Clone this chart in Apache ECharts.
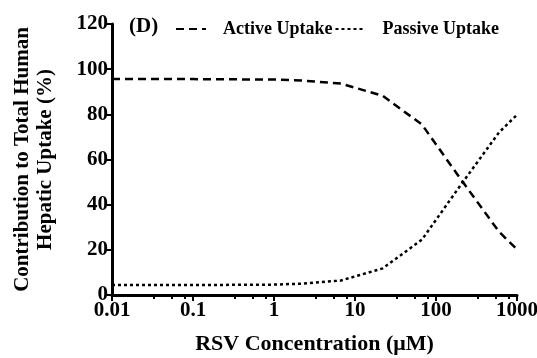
<!DOCTYPE html>
<html>
<head>
<meta charset="UTF-8">
<script src="https://cdn.jsdelivr.net/npm/echarts@6/dist/echarts.min.js"></script>
<style>
  body { margin: 0; background: #fff; }
  #chart { width: 537px; height: 358px; }
</style>
</head>
<body>
<div id="chart"></div>
<script>
// RSV concentration (uM) and uptake contributions (%)
const concentrations = [0.01, 0.1, 1, 2.2, 6.7, 22, 67, 200, 600, 1000];
const activeUptake = [95.6, 95.6, 95.4, 95.0, 93.6, 88.2, 75.5, 51.5, 28.0, 20.2];
const passiveUptake = [4.4, 4.4, 4.6, 5.0, 6.4, 11.8, 24.5, 48.5, 72.0, 79.8];
const xMajorTicks = [0.01, 0.1, 1, 10, 100, 1000];
const xMinorTicks = [0.033, 0.055, 0.078, 0.33, 0.55, 0.78, 3.3, 5.5, 7.8, 33, 55, 78, 330, 550, 780];

const font = 'Liberation Serif';
const chart = echarts.init(document.getElementById('chart'));

chart.setOption({
  animation: false,
  title: {
    text: '(D)',
    left: 124,
    top: 11,
    textStyle: { fontFamily: font, fontWeight: 'bold', fontSize: 21, color: '#000' }
  },
  legend: {
    left: 170,
    top: 15,
    itemWidth: 30,
    itemHeight: 10,
    itemGap: 2,
    itemStyle: { opacity: 0 },
    textStyle: { fontFamily: font, fontWeight: 'bold', fontSize: 18, color: '#000', padding: [0, 0, 0, 12] },
    data: ['Active Uptake', 'Passive Uptake']
  },
  grid: { left: 112, right: 20, top: 24, bottom: 63, outerBoundsMode: 'none' },
  xAxis: [{
    type: 'log',
    logBase: 10,
    min: 0.01,
    max: 1000,
    name: 'RSV Concentration (\u03bcM)',
    nameLocation: 'middle',
    nameGap: 38,
    nameTextStyle: { fontFamily: font, fontWeight: 'bold', fontSize: 22, color: '#000' },
    axisLine: { lineStyle: { color: '#000', width: 3 } },
    axisTick: { customValues: xMajorTicks, length: 6, lineStyle: { width: 2, color: '#000' } },
    axisLabel: {
      customValues: xMajorTicks,
      margin: 5,
      fontFamily: font, fontWeight: 'bold', fontSize: 21, color: '#000',
      formatter: v => String(+v.toPrecision(3))
    },
    splitLine: { show: false },
    minorTick: { show: false }
  }, {
    type: 'log',
    logBase: 10,
    min: 0.01,
    max: 1000,
    position: 'bottom',
    axisLine: { show: false },
    axisTick: { show: true, customValues: xMinorTicks, length: 4, lineStyle: { width: 2, color: '#000' } },
    axisLabel: { show: false },
    splitLine: { show: false }
  }],
  yAxis: {
    type: 'value',
    min: 0,
    max: 120,
    interval: 20,
    name: 'Contribution to Total Human\nHepatic Uptake (%)',
    nameLocation: 'middle',
    nameRotate: 90,
    nameGap: 55,
    nameTextStyle: { fontFamily: font, fontWeight: 'bold', fontSize: 21, color: '#000', lineHeight: 23 },
    axisLine: { show: true, lineStyle: { color: '#000', width: 3 } },
    axisTick: { show: true, length: 6, lineStyle: { width: 2, color: '#000' } },
    axisLabel: { margin: 4, fontFamily: font, fontWeight: 'bold', fontSize: 21, color: '#000' },
    splitLine: { show: false }
  },
  series: [{
    name: 'Active Uptake',
    type: 'line',
    symbol: 'none',
    data: concentrations.map((c, i) => [c, activeUptake[i]]),
    lineStyle: { color: '#000', width: 2.5, type: [8, 5] },
    itemStyle: { color: '#000' }
  }, {
    name: 'Passive Uptake',
    type: 'line',
    symbol: 'none',
    data: concentrations.map((c, i) => [c, passiveUptake[i]]),
    lineStyle: { color: '#000', width: 2.5, type: [3, 3] },
    itemStyle: { color: '#000' }
  }]
});
</script>
</body>
</html>
